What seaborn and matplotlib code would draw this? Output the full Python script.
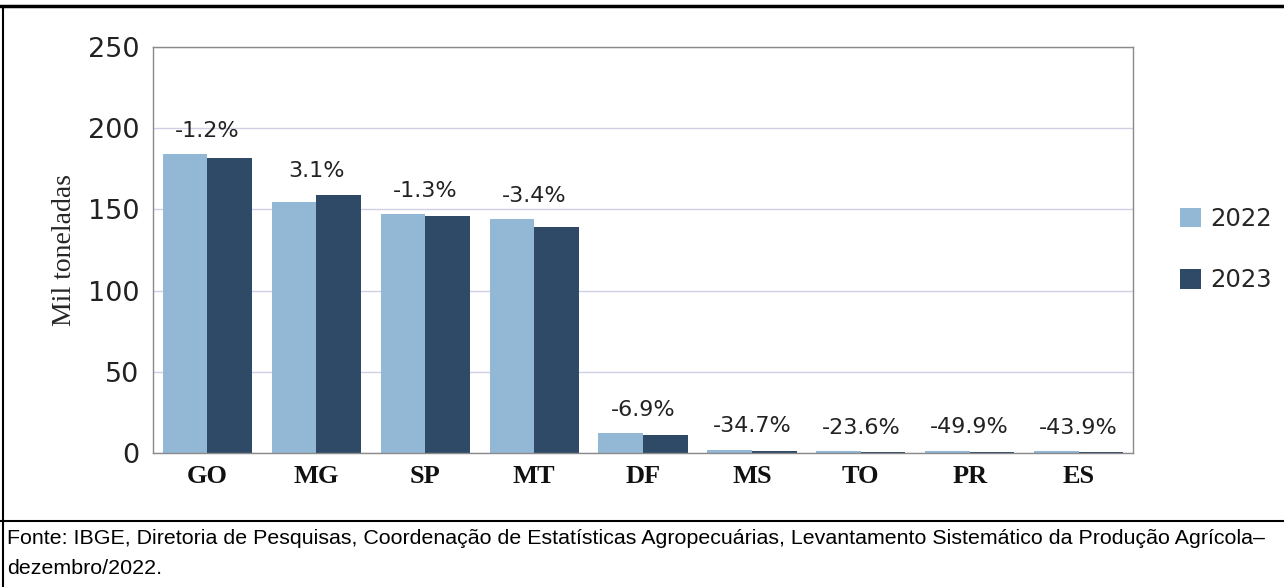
import pandas as pd
import seaborn as sns
import matplotlib.pyplot as plt
from matplotlib.lines import Line2D

# ------------------------------DATOS------------------------------
estados = ["GO", "MG", "SP", "MT", "DF", "MS", "TO", "PR", "ES"]
prod_2022 = [183.9, 154.7, 147.0, 143.9, 12.2, 1.9, 1.0, 1.2, 1.0]
prod_2023 = [181.8, 159.0, 146.1, 139.4, 11.3, 1.2, 0.8, 0.6, 0.6]
variacao = ["-1.2%", "3.1%", "-1.3%", "-3.4%", "-6.9%", "-34.7%", "-23.6%", "-49.9%", "-43.9%"]
anos = ["2022", "2023"]
cores = ["#92b8d6", "#2e4a66"]

df = pd.DataFrame({
    "estado": estados * 2,
    "ano": [anos[0]] * len(estados) + [anos[1]] * len(estados),
    "valor": prod_2022 + prod_2023,
})

# ------------------------------GRÁFICO------------------------------
sns.set_style("white")
fig = plt.figure(figsize=(12.84, 5.87), dpi=100)
ax = fig.add_axes([0.1192, 0.2283, 0.7632, 0.6916])

sns.barplot(data=df, x="estado", y="valor", hue="ano", palette=cores,
            width=0.82, gap=0, saturation=1, linewidth=0, ax=ax, legend=True)

ax.set_ylim(0, 250)
ax.set_xlim(-0.5, len(estados) - 0.5)
ax.set_yticks([0, 50, 100, 150, 200, 250])
ax.yaxis.grid(True, color="#cfcfe6", linewidth=1)
ax.set_axisbelow(True)
for s in ax.spines.values():
    s.set_color("#8a8a8a")
    s.set_linewidth(1)
ax.tick_params(axis="y", length=6, color="#cfcfe6", labelsize=19.5, pad=4)
ax.tick_params(axis="x", length=0, pad=9)
for lbl in ax.get_yticklabels():
    lbl.set_fontfamily("DejaVu Sans")
    lbl.set_color("#222222")
for lbl in ax.get_xticklabels():
    lbl.set_fontfamily("Liberation Serif")
    lbl.set_fontsize(19)
    lbl.set_fontweight("bold")
    lbl.set_color("#111111")
ax.set_xlabel("")
ax.set_ylabel("Mil toneladas", fontfamily="Liberation Serif", fontsize=20)
ax.yaxis.set_label_coords(-0.078, 0.5)

# etiquetas de variación
for i, txt in enumerate(variacao):
    top = max(prod_2022[i], prod_2023[i])
    ax.annotate(txt, (i, top), xytext=(0, 17), textcoords="offset points",
                ha="center", va="center", fontsize=16, fontfamily="DejaVu Sans",
                color="#222222")

# leyenda
handles, labels = ax.get_legend_handles_labels()
ax.legend(handles, labels, loc="center left", bbox_to_anchor=(0.919, 0.575),
          bbox_transform=fig.transFigure, frameon=False, fontsize=17.5,
          handlelength=0.85, handleheight=0.85, handletextpad=0.4,
          labelspacing=1.55, borderpad=0, borderaxespad=0)

# bordes y fuente
fig.add_artist(Line2D([0, 1], [1 - 6 / 587, 1 - 6 / 587], color="black", linewidth=2.5))
fig.add_artist(Line2D([3 / 1284, 3 / 1284], [0, 1 - 6 / 587], color="black", linewidth=1.5))
fig.add_artist(Line2D([0, 1], [1 - 521 / 587, 1 - 521 / 587], color="black", linewidth=1.5))
fig.text(7 / 1284, 1 - 529 / 587,
         "Fonte: IBGE, Diretoria de Pesquisas, Coordenação de Estatísticas Agropecuárias, "
         "Levantamento Sistemático da Produção Agrícola–\ndezembro/2022.",
         ha="left", va="top", fontsize=15.4, linespacing=1.7,
         fontfamily="Liberation Sans", color="black")

fig.savefig("out.png", dpi=100)
